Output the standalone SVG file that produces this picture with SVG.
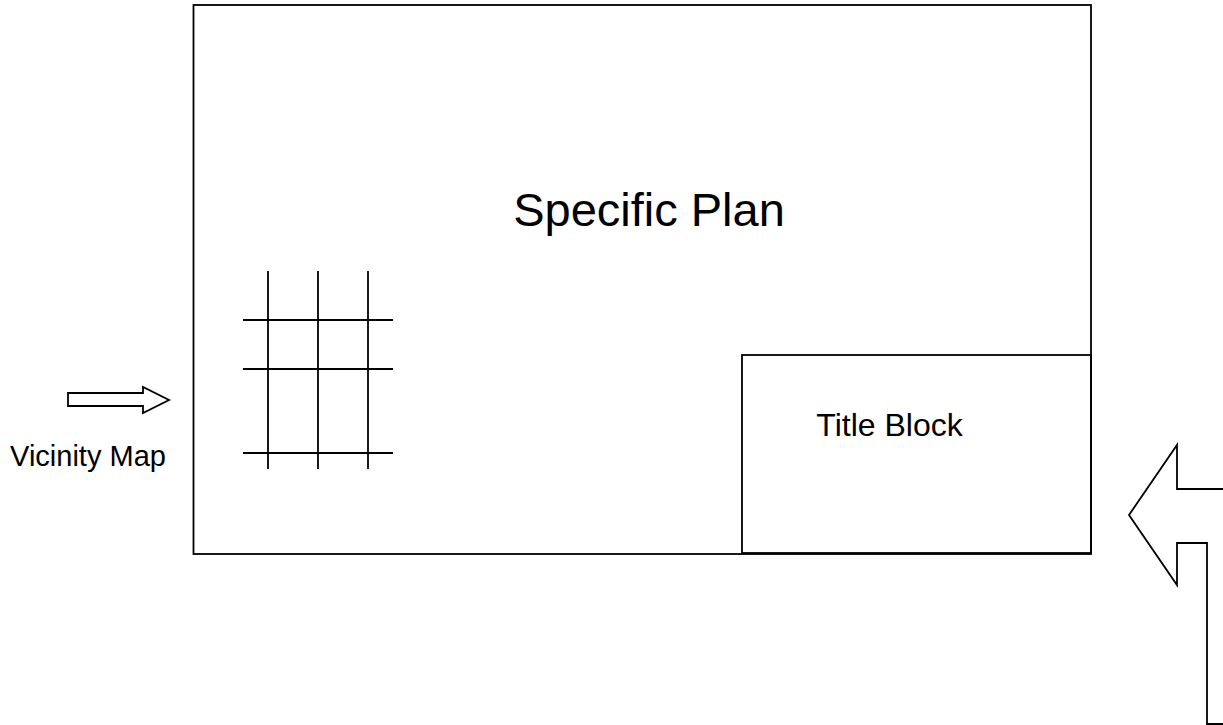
<svg xmlns="http://www.w3.org/2000/svg" width="1223" height="725" viewBox="0 0 1223 725">
<style>
.s{fill:none;stroke:#000;stroke-width:1.8}
.w{fill:#fff;stroke:#000;stroke-width:1.8}
.t{font-family:"Liberation Sans",Arial,sans-serif;fill:#000}
</style>
<rect width="1223" height="725" fill="#fff"/>
<g id="specific-plan">
<rect class="w" x="193.5" y="5" width="897.5" height="549"/>
<text class="t" x="649" y="226" font-size="47" text-anchor="middle">Specific Plan</text>
</g>
<g id="vicinity-grid">
<path class="s" d="M268,271V469M318,271V469M368,271V469M243,320H393M243,369H393M243,453H393"/>
</g>
<g id="title-block">
<rect class="s" x="742" y="355" width="349" height="198"/>
<text class="t" x="889.5" y="436" font-size="32" text-anchor="middle">Title Block</text>
</g>
<g id="vicinity-label">
<text class="t" x="88" y="466" font-size="29" text-anchor="middle">Vicinity Map</text>
</g>
<g id="connectors">
<path class="w" d="M68,393H143V387L169,400L143,413V406H68Z"/>
<path class="w" d="M1224,489H1177V445L1129,515L1177,585V543H1207V724H1224"/>
</g>
</svg>
